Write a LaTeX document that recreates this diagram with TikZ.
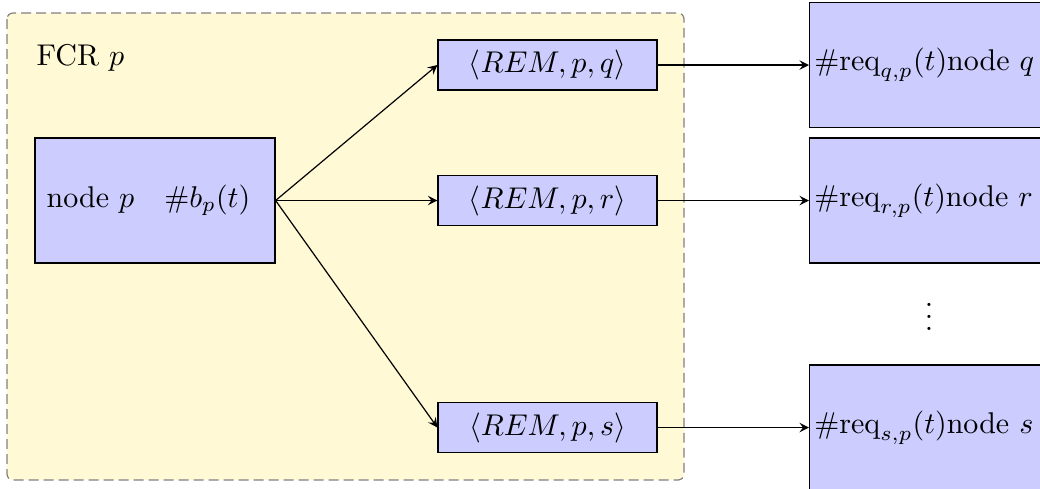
\documentclass[tikz,border=0pt]{standalone}
\usetikzlibrary{arrows.meta}
\definecolor{fcrfill}{RGB}{255,249,214}
\definecolor{boxfill}{RGB}{204,204,255}
\begin{document}
\begin{tikzpicture}[x=0.33333pt,y=-0.33333pt,>=stealth,
  region/.style={draw=gray,fill=fcrfill,dash pattern=on 3.3pt off 1.7pt,rounded corners=2pt},
  bigbox/.style={draw=black,fill=boxfill,minimum width=80pt,minimum height=41.67pt,inner sep=0pt},
  rembox/.style={draw=black,fill=boxfill,minimum width=73pt,minimum height=16.67pt,inner sep=0pt},
  reqbox/.style={bigbox,anchor=west,align=left},
  link/.style={->,line width=0.4pt}]
  \useasboundingbox (0,0) rectangle (1040,488);
  \clip (0,0) rectangle (1040,488);

  % the region of node p
  \draw[region] (7,13) rectangle (684,480);
  \node[anchor=west] (fcr) at (26,58) {FCR $p$};

  % node p and its outgoing requests
  \node[bigbox] (p) at (155,200.5) {\hbox to 80pt{\hskip3.9pt node $p$\quad$\#b_p(t)$\hss}};
  \node[rembox] (remq) at (547.5,65) {$\langle REM,p,q\rangle$};
  \node[rembox] (remr) at (547.5,200.5) {$\langle REM,p,r\rangle$};
  \node[rembox] (rems) at (547.5,427.5) {$\langle REM,p,s\rangle$};

  % receiving nodes
  \node[reqbox] (q) at (809,65) {\hbox to 80pt{\hskip1.6pt$\#\mathrm{req}_{q,p}(t)$node $q$\hss}};
  \node[reqbox] (r) at (809,200.5) {\hbox to 80pt{\hskip1.6pt$\#\mathrm{req}_{r,p}(t)$node $r$\hss}};
  \node[reqbox] (s) at (809,427.5) {\hbox to 80pt{\hskip1.6pt$\#\mathrm{req}_{s,p}(t)$node $s$\hss}};
  \node (dots) at (929,308) {$\vdots$};

  % connectors
  \draw[link] (p.east) -- (remq.west);
  \draw[link] (p.east) -- (remr.west);
  \draw[link] (p.east) -- (rems.west);
  \draw[link] (remq.east) -- (q.west);
  \draw[link] (remr.east) -- (r.west);
  \draw[link] (rems.east) -- (s.west);
\end{tikzpicture}
\end{document}
